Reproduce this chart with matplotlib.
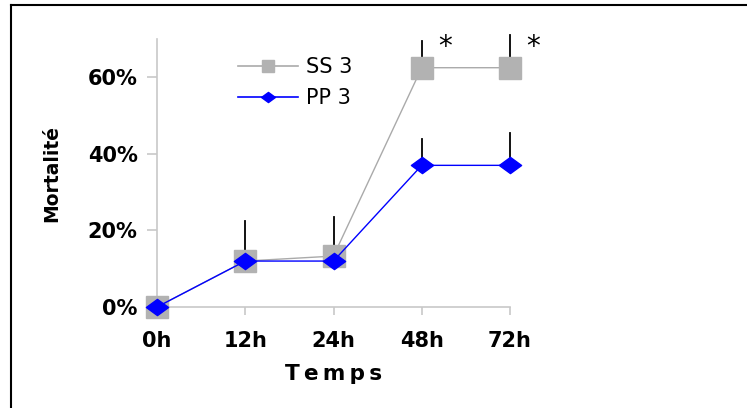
import numpy as np
import matplotlib
matplotlib.use('Agg')
import matplotlib.pyplot as plt
from matplotlib.path import Path
from matplotlib.lines import Line2D

# data
temps = ['0h', '12h', '24h', '48h', '72h']
ss3 = [0.0, 0.12, 0.133, 0.625, 0.625]
ss3_err = [0.0, 0.104, 0.102, 0.071, 0.085]
pp3 = [0.0, 0.12, 0.12, 0.37, 0.37]
pp3_err = [0.0, 0.0, 0.0, 0.07, 0.085]
signif = [3, 4]   # points marked with *

grey = '#b2b2b2'
blue = '#0000ff'

# wide, flat diamond
diamond = Path([(-1, 0), (0, 0.73), (1, 0), (0, -0.73), (-1, 0)],
               [Path.MOVETO, Path.LINETO, Path.LINETO, Path.LINETO, Path.CLOSEPOLY])

fig = plt.figure(figsize=(7.47, 4.08), dpi=100)
ax = fig.add_axes([157/747, 1 - 307/408, 353/747, 268/408])

x = np.arange(len(temps))

# upward error bars only
for xi, yi, ei in zip(x, ss3, ss3_err):
    if ei > 0:
        ax.plot([xi, xi], [yi, yi + ei], color='black', lw=1.3, zorder=2, clip_on=False)
for xi, yi, ei in zip(x, pp3, pp3_err):
    if ei > 0:
        ax.plot([xi, xi], [yi, yi + ei], color='black', lw=1.3, zorder=2, clip_on=False)

ax.plot(x, ss3, color='#aaaaaa', lw=1, marker='s', ms=15.5, mfc=grey, mec=grey,
        zorder=3, clip_on=False)
ax.plot(x, pp3, color=blue, lw=1, marker=diamond, ms=16, mfc=blue, mec=blue,
        zorder=4, clip_on=False)

for i in signif:
    ax.text(i + 0.26, 0.678, '*', fontsize=20, ha='center', va='center',
            color='black', fontfamily='DejaVu Sans')

ax.set_xlim(0, 4)
ax.set_ylim(0, 0.70)
ax.set_xticks(x)
ax.set_xticklabels(temps)
ax.set_yticks([0, 0.2, 0.4, 0.6])
ax.set_yticklabels(['0%', '20%', '40%', '60%'])

for s in ['top', 'right']:
    ax.spines[s].set_visible(False)
for s in ['left', 'bottom']:
    ax.spines[s].set_color('#c8c8c8')
    ax.spines[s].set_linewidth(1.2)
ax.tick_params(axis='both', colors='#c8c8c8', width=1.2)
ax.tick_params(axis='y', length=7, pad=7, labelsize=15, labelcolor='black')
ax.tick_params(axis='x', length=6, pad=11, labelsize=15, labelcolor='black')
for lab in ax.get_xticklabels() + ax.get_yticklabels():
    lab.set_fontweight('bold')

fig.text(52/747, 1 - 173/408, 'Mortalité', rotation=90, fontsize=13.5, fontweight='bold',
         ha='center', va='center')
fig.text(334/747, 1 - 374/408, 'T\u2009e\u2009m\u2009p\u2009s', fontsize=15.5,
         fontweight='bold', ha='center', va='center', fontfamily='DejaVu Sans')

handles = [Line2D([], [], color='#aaaaaa', lw=1.2, marker='s', ms=9, mfc=grey, mec=grey),
           Line2D([], [], color=blue, lw=1.2, marker=diamond, ms=10, mfc=blue, mec=blue)]
ax.legend(handles, ['SS 3', 'PP 3'], loc='upper left', frameon=False,
          bbox_to_anchor=(238/747, 1 - 57/408), bbox_transform=fig.transFigure,
          fontsize=15, handlelength=2.9, handletextpad=0.35, labelspacing=0.55,
          borderpad=0, borderaxespad=0)

# figure frame (top and left edges only visible)
fig.add_artist(Line2D([11/747, 11/747], [0, 1 - 5/408], color='black', lw=1.5,
                      transform=fig.transFigure))
fig.add_artist(Line2D([11/747, 1], [1 - 5/408, 1 - 5/408], color='black', lw=1.5,
                      transform=fig.transFigure))

fig.savefig('out.png', dpi=100)
